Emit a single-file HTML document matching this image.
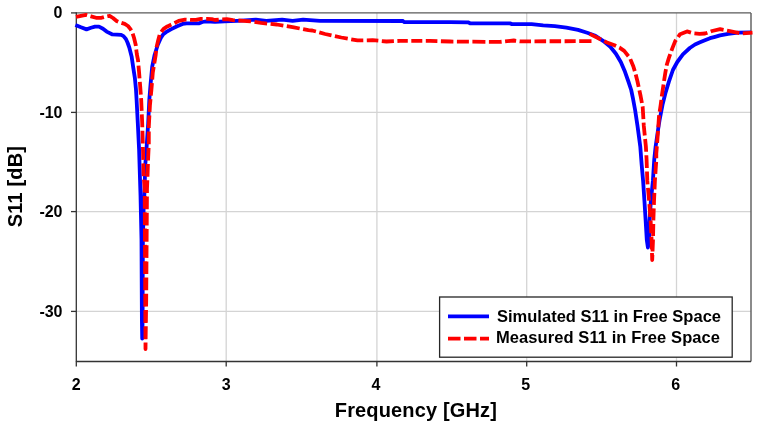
<!DOCTYPE html>
<html><head><meta charset="utf-8"><title>S11 vs Frequency</title>
<style>
html,body{margin:0;padding:0;background:#fff;}
body{width:761px;height:431px;overflow:hidden;}
svg{display:block;}
text{font-family:"Liberation Sans",sans-serif;font-weight:bold;fill:#000;}
.tl{font-size:16px;}
.g{stroke:#d4d4d4;stroke-width:1.3;}
.ax{stroke:#333;stroke-width:1.3;}
.bd{stroke:#5a5a5a;stroke-width:1.4;fill:none;}
.sim{fill:none;stroke:#0000ff;stroke-width:3.8;stroke-linejoin:round;stroke-linecap:butt;}
.meas{fill:none;stroke:#ff0000;stroke-width:3.8;stroke-linejoin:round;}
.mea{fill:none;stroke:#ff0000;stroke-width:3.8;stroke-linejoin:round;stroke-dasharray:12.5 3.5;}
</style></head>
<body>
<svg width="761" height="431" viewBox="0 0 761 431">
<rect x="0" y="0" width="761" height="431" fill="#fff"/>
<line x1="76.3" y1="112.40" x2="751.0" y2="112.40" class="g"/><line x1="76.3" y1="211.60" x2="751.0" y2="211.60" class="g"/><line x1="76.3" y1="311.40" x2="751.0" y2="311.40" class="g"/><line x1="226.20" y1="12.9" x2="226.20" y2="361.5" class="g"/><line x1="376.90" y1="12.9" x2="376.90" y2="361.5" class="g"/><line x1="526.70" y1="12.9" x2="526.70" y2="361.5" class="g"/><line x1="676.50" y1="12.9" x2="676.50" y2="361.5" class="g"/>
<line x1="76.3" y1="12.9" x2="751.0" y2="12.9" class="bd"/>
<line x1="751.0" y1="12.9" x2="751.0" y2="361.5" class="bd"/>
<line x1="71" y1="12.90" x2="76.3" y2="12.90" class="ax"/><line x1="71" y1="112.40" x2="76.3" y2="112.40" class="ax"/><line x1="71" y1="211.60" x2="76.3" y2="211.60" class="ax"/><line x1="71" y1="311.40" x2="76.3" y2="311.40" class="ax"/><line x1="76.30" y1="361.5" x2="76.30" y2="366.5" class="ax"/><line x1="226.20" y1="361.5" x2="226.20" y2="366.5" class="ax"/><line x1="376.90" y1="361.5" x2="376.90" y2="366.5" class="ax"/><line x1="526.70" y1="361.5" x2="526.70" y2="366.5" class="ax"/><line x1="676.50" y1="361.5" x2="676.50" y2="366.5" class="ax"/>
<line x1="76.3" y1="12.3" x2="76.3" y2="362.1" class="ax"/>
<line x1="76.3" y1="361.5" x2="751.0" y2="361.5" class="ax"/>
<polyline class="sim" points="75.4,25 81,27.3 86.5,29.4 91,27.8 95,26.6 99,26.6 103,28.7 106.6,31.6 112,34.3 117,34.6 121.2,34.9 123.5,36.1 125.9,39 127.5,42.5 129.3,47.5 131.6,56.4 133.1,66.6 134.9,78.2 136,89.8 136.6,100 137.8,123.2 139.1,150 140.5,195 141.5,240 141.7,280 141.9,320 142.2,338.5 142.6,320 142.7,280 142.9,240 143.6,210 144.3,197 145.3,164.7 146.4,150 148.2,123.2 149.3,100 150.5,85 152.2,66.6 154.6,55 157.8,44.8 160.8,37.9 163.3,34.2 166,32.2 170.8,29.4 177.1,26.2 182.6,23.9 186.5,23.3 199.3,23.3 202.3,22 206.3,21.3 215,21.9 224.7,21.3 237.3,20.8 255.8,19.7 266.3,20.8 282.1,19.7 292.6,20.8 303.1,19.7 320,20.8 403,21 404,22 450,22.2 468,22.3 470,23.3 510,23.4 512,24.1 531.6,24.1 543.2,25.3 554.8,26.1 566.4,27.6 578,29.9 587.2,32.8 595.4,35.7 603.4,41.1 610.3,46.7 615.9,53.7 620.8,62 625,71.8 628.4,81.5 631.2,90 633,98.7 635.1,110 637.5,125.9 640.3,146.8 641.7,165 643.1,180.9 644.5,201.8 645.6,220 646.8,240 647.9,247.5 649,240 649.6,220 650.8,201.8 652.9,180.9 654.2,160 655.6,146.8 658.6,125.9 659.6,120 662.5,104.8 665.4,93.2 668.9,81.6 672.9,70 677.3,62 682.9,54.4 689.8,48 695,44.5 700,42.3 704.3,40.5 710,38.2 715,36.8 720,35.4 728.2,33.8 737.9,32.6 750.9,32.4"/>
<path class="meas" d="M76.00,16.90 L81.00,15.80 L86.00,14.90 L87.13,15.22 M90.50,16.16 L91.00,16.30 L96.00,17.80 L101.50,17.80 L103.91,17.10 M107.30,16.25 L109.60,15.80 L113.00,18.00 L116.60,21.00 L118.19,21.70 M121.46,22.93 L124.70,23.90 L128.00,26.00 L130.50,29.10 L131.28,30.42 M132.70,33.60 L134.00,37.80 L135.70,44.80 L135.84,46.00 M136.25,49.48 L136.80,54.10 L138.00,60.00 L138.19,62.13 M138.50,65.62 L138.90,70.10 L139.56,78.38 M139.84,81.87 L140.10,85.10 L140.81,94.65 M141.06,98.14 L141.20,100.00 L141.67,110.94 M141.82,114.44 L142.20,123.20 L142.32,127.24 M142.43,130.74 L142.81,143.55 M142.91,147.04 L143.00,150.00 L143.21,159.85 M143.28,163.35 L143.50,174.00 L143.67,176.16 M143.95,179.65 L144.70,189.00 L144.72,192.43 M144.73,195.93 L144.80,208.74 M144.81,212.24 L144.88,225.06 M144.89,228.56 L144.96,241.37 M144.97,244.87 L145.00,250.00 L145.04,257.68 M145.06,261.18 L145.12,274.00 M145.14,277.50 L145.20,290.31 M145.22,293.81 L145.29,306.62 M145.30,310.12 L145.37,322.94 M145.39,326.44 L145.45,339.25 M145.47,342.75 L145.50,349.00 L145.59,342.52 M145.64,339.02 L145.82,326.29 M145.87,322.79 L146.06,310.06 M146.11,306.56 L146.20,300.00 L146.24,293.83 M146.27,290.33 L146.36,277.60 M146.39,274.10 L146.48,261.37 M146.50,257.87 L146.60,245.14 M146.62,241.64 L146.71,228.91 M146.74,225.41 L146.83,212.68 M146.85,209.18 L146.95,196.45 M146.97,192.95 L147.00,189.00 L147.35,180.22 M147.49,176.73 L147.60,174.00 L147.94,164.00 M148.07,160.51 L148.20,156.60 L148.62,147.79 M148.79,144.29 L148.80,144.00 L148.80,131.56 M148.80,128.06 L148.80,126.70 L149.40,115.35 M149.58,111.85 L149.90,105.80 L150.52,99.16 M150.85,95.67 L151.40,89.80 L151.95,82.99 M152.23,79.50 L152.80,72.40 L153.72,66.87 M154.30,63.42 L155.70,55.00 L156.07,50.82 M156.52,47.35 L158.20,40.20 L159.60,35.00 M161.26,31.92 L163.60,28.80 L167.30,26.40 L170.00,25.20 L171.33,24.58 M174.50,23.10 L174.70,23.00 L178.70,20.90 L185.00,19.60 L186.55,19.68 M190.05,19.88 L190.50,19.90 L196.00,19.80 L200.70,18.80 L202.67,18.80 M206.17,18.80 L207.00,18.80 L211.80,19.20 L215.00,20.00 L218.77,19.62 M222.26,19.40 L226.80,19.20 L233.10,20.20 L234.91,20.30 M238.40,20.50 L243.60,20.80 L250.50,21.30 L251.04,21.38 M254.50,21.91 L261.00,22.90 L267.12,23.52 M270.60,23.87 L276.80,24.50 L283.35,25.58 M286.80,26.15 L292.60,27.10 L299.67,28.49 M303.10,29.16 L308.40,30.20 L312.30,30.50 L315.92,31.49 M319.30,32.41 L325.10,34.00 L331.48,35.38 M334.90,36.12 L341.30,37.50 L347.75,38.66 M351.20,39.27 L357.50,40.40 L363.30,40.32 M366.80,40.28 L372.60,40.20 L378.32,40.73 M381.80,41.06 L386.50,41.50 L393.90,41.17 M397.40,41.02 L400.00,40.90 L407.80,40.90 M411.30,40.90 L422.30,40.90 M425.80,40.90 L430.00,40.90 L437.40,41.12 M440.90,41.23 L450.00,41.50 L453.40,41.53 M456.90,41.56 L468.90,41.65 M472.40,41.68 L485.40,41.78 M488.90,41.81 L500.00,41.90 L501.62,41.74 M505.10,41.38 L513.80,40.50 L516.13,40.80 M519.60,41.25 L520.00,41.30 L531.00,41.28 M534.50,41.28 L546.10,41.26 M549.60,41.26 L561.10,41.24 M564.60,41.24 L575.70,41.22 M579.20,41.22 L591.50,41.20"/>
<path class="meas" d="M589.60,33.85 L600.90,39.50 L601.07,39.58 M604.21,41.13 L607.00,42.50 L614.50,45.30 L616.06,46.02 M619.24,47.48 L619.50,47.60 L624.20,50.90 L628.44,56.21 M630.32,59.13 L633.30,66.20 L634.78,71.13 M635.73,74.50 L637.50,81.50 L638.66,86.98 M639.39,90.41 L640.60,96.00 L641.92,102.98 M642.57,106.42 L642.70,107.10 L643.41,119.21 M643.61,122.71 L643.80,125.90 L644.76,135.48 M645.11,138.96 L645.90,146.80 L646.16,151.74 M646.35,155.24 L646.60,160.00 L646.87,168.05 M646.99,171.55 L647.30,180.90 L647.61,184.36 M647.93,187.84 L649.09,200.61 M649.38,204.10 L650.36,216.89 M650.62,220.38 L651.26,233.19 M651.43,236.69 L651.60,240.00 L651.89,249.50 M651.99,253.00 L652.20,260.00 L652.40,254.96 M652.54,251.46 L653.00,240.00 L653.01,239.43 M653.08,235.93 L653.32,223.89 M653.39,220.39 L653.40,220.00 L653.78,208.35 M653.90,204.85 L654.00,201.80 L654.39,192.82 M654.54,189.32 L654.90,180.90 L655.14,177.30 M655.38,173.80 L656.18,161.79 M656.30,158.29 L656.30,153.70 L656.87,146.27 M657.14,142.78 L657.90,132.90 L658.04,130.77 M658.27,127.28 L659.00,116.30 L659.15,115.27 M659.66,111.81 L660.70,104.80 L661.32,99.88 M661.75,96.40 L661.80,96.00 L663.00,88.00 L663.53,84.49 M664.05,81.03 L665.40,72.30 L665.99,69.15 M666.63,65.71 L666.80,64.80 L668.90,57.90 L670.22,54.22 M671.39,50.92 L672.40,48.10 L675.20,41.10 L676.07,39.87 M678.10,37.02 L680.10,34.20 L687.00,31.40 L690.99,32.60 M694.40,33.33 L699.60,33.80 L705.00,33.50 L707.40,32.68 M710.70,31.51 L712.10,31.00 L720.10,29.20 L723.57,29.88 M727.00,30.55 L729.80,31.10 L739.34,33.11 M742.80,33.39 L752.50,32.70"/>
<text x="62.5" y="18.20" text-anchor="end" class="tl">0</text><text x="62.5" y="118.20" text-anchor="end" class="tl">-10</text><text x="62.5" y="217.40" text-anchor="end" class="tl">-20</text><text x="62.5" y="317.20" text-anchor="end" class="tl">-30</text>
<text x="76.30" y="389.5" text-anchor="middle" class="tl">2</text><text x="226.20" y="389.5" text-anchor="middle" class="tl">3</text><text x="376.00" y="389.5" text-anchor="middle" class="tl">4</text><text x="525.80" y="389.5" text-anchor="middle" class="tl">5</text><text x="675.60" y="389.5" text-anchor="middle" class="tl">6</text>
<text x="415.8" y="416.8" text-anchor="middle" font-size="20" textLength="162" lengthAdjust="spacing">Frequency [GHz]</text>
<text transform="translate(22.2,186.7) rotate(-90)" text-anchor="middle" font-size="20" textLength="81.3" lengthAdjust="spacing">S11 [dB]</text>
<rect x="439.6" y="297.0" width="292.6" height="60.2" fill="#fff" stroke="#262626" stroke-width="1.3"/>
<line x1="448" y1="316.4" x2="489" y2="316.4" class="sim" style="stroke-linecap:butt"/>
<line x1="448" y1="338.6" x2="489" y2="338.6" class="mea"/>
<text x="497" y="321.6" font-size="16.5" textLength="224" lengthAdjust="spacing">Simulated S11 in Free Space</text>
<text x="496" y="342.8" font-size="16.5" textLength="224" lengthAdjust="spacing">Measured S11 in Free Space</text>
</svg>
</body></html>
